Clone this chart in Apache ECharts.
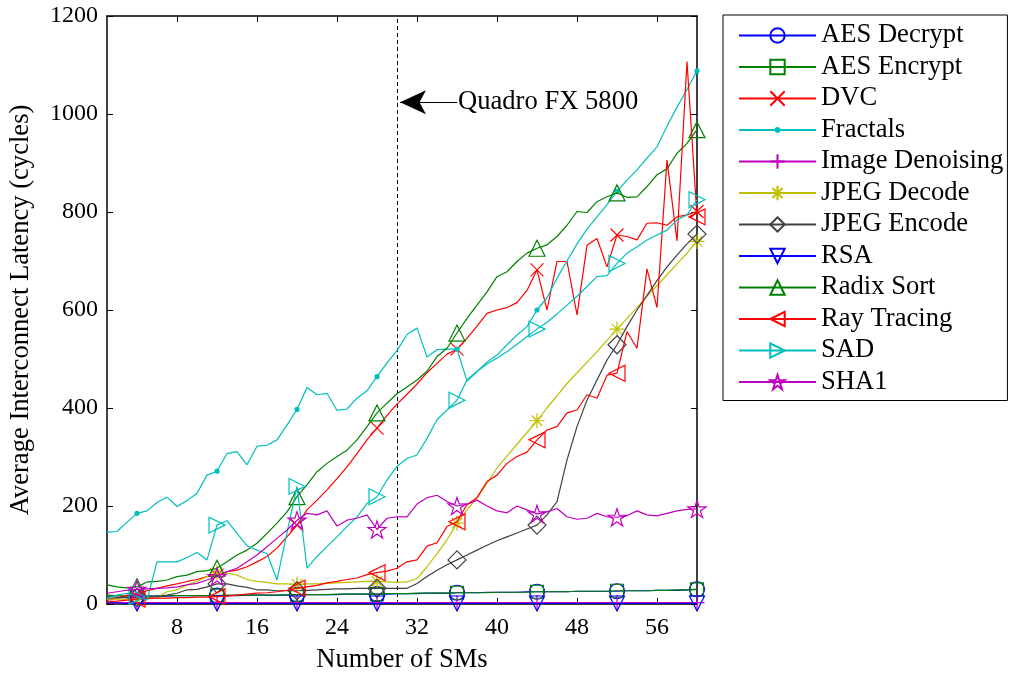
<!DOCTYPE html>
<html>
<head>
<meta charset="utf-8">
<script src="https://cdn.jsdelivr.net/npm/echarts@6/dist/echarts.min.js"></script>
<style>
html,body{margin:0;padding:0;background:#fff;}
#chart{width:1009px;height:673px;}
</style>
</head>
<body>
<div id="chart"></div>
<script>
// ---- data (x = number of SMs, 1..60) ----
const sms = [1,2,3,4,5,6,7,8,9,10,11,12,13,14,15,16,17,18,19,20,21,22,23,24,25,26,27,28,29,30,31,32,33,34,35,36,37,38,39,40,41,42,43,44,45,46,47,48,49,50,51,52,53,54,55,56,57,58,59,60];
const xTicks = [8,16,24,32,40,48,56];
const markerSMs = [4,12,20,28,36,44,52,60];

const aesDecrypt = [10,12,14,15,16,16,16,17,17,17,17,17,17,17,18,18,18,18,18,19,19,19,19,19,20,20,20,20,20,21,21,21,22,22,22,23,23,23,24,24,24,24,25,25,25,25,25,26,26,26,26,26,27,27,27,28,28,28,29,30];
const aesEncrypt = [18,17,16,16,16,16,17,17,17,17,17,17,18,18,18,18,18,18,19,19,19,19,19,20,20,20,20,20,21,21,21,22,22,22,22,23,23,23,23,24,24,24,24,25,25,25,25,26,26,26,26,27,27,27,27,28,28,29,29,30];
const dvc = [8,12,18,22,27,32,37,41,46,50,56,59,66,69,76,86,97,114,137,161,192,212,233,256,280,307,335,359,385,408,428,449,472,491,510,520,542,567,593,600,605,615,640,682,600,699,699,590,732,746,688,753,750,743,777,778,773,790,794,801];
const fractals = [146,148,167,185,190,207,218,199,211,226,263,271,307,311,284,322,324,335,365,397,442,427,430,395,398,420,435,464,492,517,550,563,504,519,520,520,455,474,494,508,529,549,566,600,625,665,700,735,765,790,815,842,865,886,910,933,975,1014,1050,1088];
const imageDenoising = [3,3,3,3,3,3,3,3,3,3,3,3,3,3,3,3,3,3,3,3,3,3,3,3,3,3,3,3,3,3,3,3,3,3,3,3,3,3,3,3,3,3,3,3,3,3,3,3,3,3,3,3,3,3,3,3,3,3,3,3];
const jpegDecode = [10,10,10,10,11,12,25,29,39,46,56,64,63,59,50,46,44,41,41,40,41,41,42,43,44,45,46,46,45,44,45,52,76,103,131,165,192,216,246,278,302,326,350,374,400,425,450,472,493,515,538,561,583,605,628,650,672,694,716,740];
const jpegEncode = [15,14,13,13,14,15,18,22,29,30,35,41,41,37,34,29,29,27,27,27,28,29,30,31,31,32,32,32,32,32,32,42,56,69,80,90,100,110,120,129,137,145,153,161,182,209,294,362,416,457,498,529,566,600,630,660,688,712,735,755];
const rsa = [2,2,1,1,1,1,1,1,1,1,1,1,1,1,1,1,1,1,1,1,1,1,1,1,1,1,1,1,1,1,1,1,1,1,1,1,1,1,1,1,1,1,1,1,1,1,1,1,1,1,1,1,1,1,1,1,1,1,1,1];
const radixSort = [39,35,33,35,45,46,49,56,59,66,68,73,86,100,110,124,144,165,188,219,243,270,287,301,314,335,362,390,410,429,443,457,475,505,522,553,583,610,637,668,678,699,716,726,733,750,773,801,799,821,831,839,830,831,852,876,888,920,940,968];
const rayTracing = [5,6,8,10,11,12,12,13,13,14,14,15,16,18,20,22,23,25,28,32,35,38,43,46,50,53,60,64,67,73,86,90,118,125,158,168,203,217,250,263,287,301,310,335,355,362,390,396,427,420,467,471,556,522,684,605,906,741,1107,790];
const sad = [12,18,22,15,8,86,86,86,95,105,90,161,170,144,119,110,103,49,145,240,73,97,117,137,158,178,205,219,253,281,297,304,338,376,396,416,457,475,490,502,515,530,546,561,575,592,610,628,648,668,670,695,716,729,743,753,763,784,794,825];
const sha1 = [22,25,28,30,31,32,33,35,39,42,49,56,66,73,86,100,117,134,151,171,185,182,190,159,171,175,182,152,175,178,178,204,217,222,209,200,203,212,200,190,186,200,192,184,188,195,178,173,175,185,178,177,180,190,182,180,185,190,193,194];

const seriesNames = ['AES Decrypt','AES Encrypt','DVC','Fractals','Image Denoising','JPEG Decode','JPEG Encode','RSA','Radix Sort','Ray Tracing','SAD','SHA1'];
const seriesValues = [aesDecrypt,aesEncrypt,dvc,fractals,imageDenoising,jpegDecode,jpegEncode,rsa,radixSort,rayTracing,sad,sha1];

// annotation
const gpuLineX = 30;
const gpuLabel = 'Quadro FX 5800';
const arrowFrom = [36.0, 1024];
const arrowTo = [30.3, 1024];

// ---- styles ----
const FONT = '"Liberation Serif", "Times New Roman", serif';
const LABEL_SIZE = 26.6;
const TICK_SIZE = 24;
const STAR = 'path://M50,0L61.2,34.6L97.6,34.5L68.1,55.9L79.4,90.5L50,69L20.6,90.5L31.9,55.9L2.4,34.5L38.8,34.6Z';
const XMARK = 'path://M0,0L10,10M10,0L0,10';
const PLUS = 'path://M5,0L5,10M0,5L10,5';
const ASTER = 'path://M5,0L5,10M0,5L10,5M1.5,1.5L8.5,8.5M8.5,1.5L1.5,8.5';
// small dot centred in a larger (invisible) box so the legend dot stays small
const DOT = 'path://M0,0M20,20M14,10A4,4,0,1,1,6,10A4,4,0,1,1,14,10Z';
const styles = [
  {c:'#0000FF', sym:'circle', size:15, rot:0, fill:false},
  {c:'#008000', sym:'rect', size:13, rot:0, fill:false},
  {c:'#FF0000', sym:XMARK, size:13, rot:0, fill:false},
  {c:'#00BFBF', sym:DOT, size:13, rot:0, fill:true},
  {c:'#BF00BF', sym:PLUS, size:15, rot:0, fill:false},
  {c:'#BFBF00', sym:ASTER, size:15, rot:0, fill:false},
  {c:'#404040', sym:'diamond', size:18, rot:0, fill:false},
  {c:'#0000FF', sym:'triangle', size:15, rot:180, fill:false},
  {c:'#008000', sym:'triangle', size:16, rot:0, fill:false},
  {c:'#FF0000', sym:'triangle', size:16, rot:90, fill:false},
  {c:'#00BFBF', sym:'triangle', size:16, rot:-90, fill:false},
  {c:'#BF00BF', sym:STAR, size:18, rot:0, fill:false}
];

const series = seriesNames.map((name, i) => {
  const st = styles[i];
  return {
    name: name,
    type: 'line',
    data: sms.map((x, k) => [x, seriesValues[i][k]]),
    symbol: st.sym,
    symbolRotate: st.rot,
    symbolKeepAspect: true,
    symbolSize: (v) => (markerSMs.indexOf(v[0]) >= 0 ? st.size : 0),
    showAllSymbol: true,
    clip: false,
    lineStyle: {color: st.c, width: 1.2},
    itemStyle: st.fill ? {color: st.c, borderColor: st.c, borderWidth: 0}
                       : {color: 'rgba(0,0,0,0)', borderColor: st.c, borderWidth: 1.2},
    emphasis: {disabled: true},
    z: 2 + i
  };
});

// annotation: dashed vertical line, arrow and label
series[0].markLine = {
  silent: true,
  animation: false,
  label: {show: false},
  data: [
    [{coord: [gpuLineX, 0], symbol: 'none'}, {coord: [gpuLineX, 1200], symbol: 'none', lineStyle: {type: [4, 3], color: '#000', width: 1}}],
    [{coord: arrowFrom, symbol: 'none'}, {coord: arrowTo, symbol: 'arrow', symbolSize: [18, 26], lineStyle: {type: 'solid', color: '#000', width: 1}}]
  ],
  lineStyle: {color: '#000', width: 1},
  emphasis: {disabled: true}
};
series[0].markPoint = {
  silent: true,
  animation: false,
  symbol: 'circle',
  symbolSize: 0,
  data: [{coord: arrowFrom, label: {show: true, position: 'right', distance: 1, formatter: gpuLabel, fontSize: LABEL_SIZE, fontFamily: FONT, color: '#000'}}]
};

const axisCommon = {
  axisLine: {show: true, onZero: false, lineStyle: {color: '#000', width: 1.5}},
  axisTick: {show: true, inside: true, length: 6, lineStyle: {color: '#000', width: 1}},
  splitLine: {show: false}
};

const option = {
  animation: false,
  backgroundColor: '#fff',
  grid: {left: 107, right: 312, top: 16, bottom: 69, containLabel: false, outerBoundsMode: 'none'},
  legend: {
    orient: 'vertical',
    left: 723, top: 15,
    padding: [7, 4, 5, 15],
    itemWidth: 77, itemHeight: 18, itemGap: 4.5,
    borderColor: '#000', borderWidth: 1,
    backgroundColor: '#fff',
    textStyle: {fontSize: LABEL_SIZE, fontFamily: FONT, color: '#000'},
    data: seriesNames
  },
  xAxis: [
    Object.assign({}, axisCommon, {
      type: 'value', min: 1, max: 60, position: 'bottom',
      axisTick: Object.assign({}, axisCommon.axisTick, {customValues: xTicks}),
      axisLabel: {customValues: xTicks, fontSize: TICK_SIZE, fontFamily: FONT, color: '#000', margin: 12},
      name: 'Number of SMs', nameLocation: 'middle', nameGap: 43,
      nameTextStyle: {fontSize: LABEL_SIZE, fontFamily: FONT, color: '#000'}
    }),
    Object.assign({}, axisCommon, {
      type: 'value', min: 1, max: 60, position: 'top',
      axisTick: Object.assign({}, axisCommon.axisTick, {customValues: xTicks}),
      axisLabel: {show: false}
    })
  ],
  yAxis: [
    Object.assign({}, axisCommon, {
      type: 'value', min: 0, max: 1200, interval: 200, position: 'left',
      axisLabel: {fontSize: TICK_SIZE, fontFamily: FONT, color: '#000', margin: 9, formatter: (v) => String(v)},
      name: 'Average Interconnect Latency (cycles)', nameLocation: 'middle', nameGap: 72,
      nameTextStyle: {fontSize: LABEL_SIZE, fontFamily: FONT, color: '#000'}
    }),
    Object.assign({}, axisCommon, {
      type: 'value', min: 0, max: 1200, interval: 200, position: 'right',
      axisLabel: {show: false}
    })
  ],
  series: series
};

const chart = echarts.init(document.getElementById('chart'), null, {renderer: 'canvas'});
chart.setOption(option);
</script>
</body>
</html>
